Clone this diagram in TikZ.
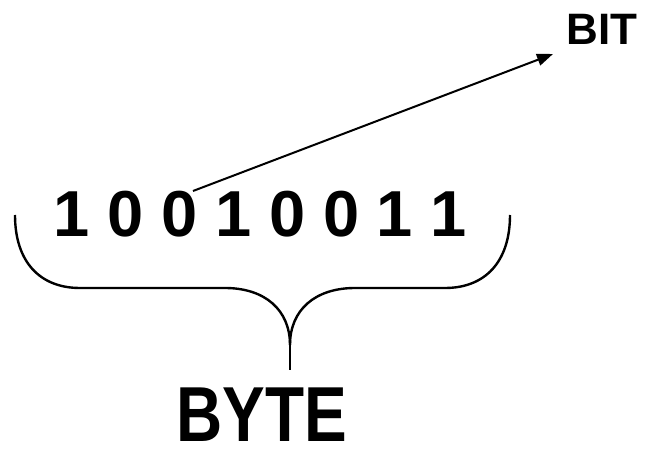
\documentclass[tikz,border=0pt]{standalone}
\usepackage{fontspec}
\setmainfont{Liberation Sans}
\usetikzlibrary{arrows.meta}
\begin{document}
\begin{tikzpicture}[x=1pt,y=-1pt,
  digit/.style={font=\fontsize{65}{65}\selectfont\bfseries, inner sep=0pt, anchor=base},
  lbl/.style={inner sep=0pt, anchor=base},
  brace/.style={line width=2.4pt},
  pointer/.style={line width=2pt, -{Triangle[length=16pt,width=12pt]}}]
\useasboundingbox (0,0) rectangle (646,449);
\foreach \x/\d [count=\i] in {72/1,126/0,180/0,234/1,288/0,342/0,395/1,449/1}
  \node[digit] (d\i) at (\x,237) {\d};
\node[lbl, font=\fontsize{44}{44}\selectfont\bfseries] (bit) at (602,45) {BIT};
\node[lbl, font=\fontsize{78}{78}\selectfont\bfseries, xscale=0.82] (byte) at (262,441) {BYTE};
\coordinate (s) at (193,191);
\coordinate (t) at (553,54);
\draw[pointer] (s) -- (t);
\draw[brace] (15,215) .. controls (15,262) and (40,288) .. (80,288) -- (225,288)
  .. controls (265,288) and (290,310) .. (290,345);
\draw[brace] (290,345) .. controls (290,310) and (315,288) .. (355,288) -- (445,288)
  .. controls (485,288) and (510,262) .. (510,215);
\draw[line width=1.2pt] (290,340) -- (290,370);
\end{tikzpicture}
\end{document}
